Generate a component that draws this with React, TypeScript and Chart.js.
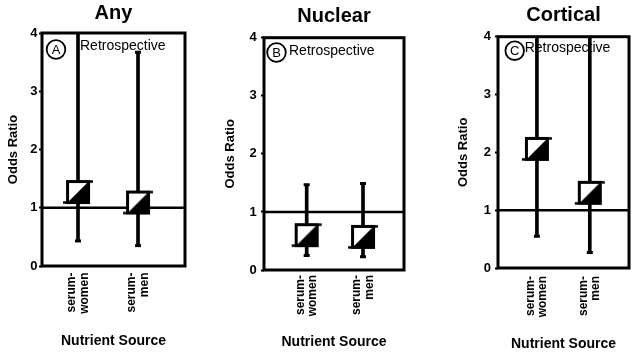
import React, { useEffect, useRef } from "react";
import { Chart, registerables } from "chart.js";

Chart.register(...registerables);

// ---------- data ----------
const PANEL_TITLES = ["Any", "Nuclear", "Cortical"];
const PANEL_LETTERS = ["A", "B", "C"];
const STUDY_LABEL = "Retrospective";
const CATEGORIES = [["serum-", "women"], ["serum-", "men"]];
const CATEGORY_X = [1, 2];
const Y_TITLE = "Odds Ratio";
const X_TITLE = "Nutrient Source";
const Y_MIN = 0;
const Y_MAX = 4;
const Y_STEP = 1;
const REFERENCE_OR = 1;

const ANY_OR = [1.27, 1.09];
const ANY_LOW = [0.43, 0.35];
const ANY_HIGH = [5.0, 3.67];

const NUCLEAR_OR = [0.6, 0.57];
const NUCLEAR_LOW = [0.25, 0.23];
const NUCLEAR_HIGH = [1.47, 1.49];

const CORTICAL_OR = [2.06, 1.3];
const CORTICAL_LOW = [0.55, 0.27];
const CORTICAL_HIGH = [5.5, 4.8];

const SERIES = [
  { or: ANY_OR, low: ANY_LOW, high: ANY_HIGH },
  { or: NUCLEAR_OR, low: NUCLEAR_LOW, high: NUCLEAR_HIGH },
  { or: CORTICAL_OR, low: CORTICAL_LOW, high: CORTICAL_HIGH },
];

// ---------- layout / style ----------
const FONT = "'Liberation Sans', Arial, Helvetica, sans-serif";
const PANEL_W = 214;
const PANEL_H = 357;

const LAYOUTS = [
  { left: 0, yAxisWidth: 42, padRight: 29, xAxisHeight: 91, titlePad: { top: 1.7, bottom: 7.3 }, yTitlePad: 5.7, yTickPad: 1.5, xTickPad: 6.5, xTitlePad: 7.6, xMin: 0.4, xMax: 2.783, circle: [14, 16.5], text: [38, 13] },
  { left: 214, yAxisWidth: 50, padRight: 24, xAxisHeight: 87, titlePad: { top: 4.2, bottom: 9.5 }, yTitlePad: 8.9, yTickPad: 4.3, xTickPad: 5, xTitlePad: 6.1, xMin: 0.242, xMax: 2.728, circle: [12.5, 14.8], text: [25, 13.6] },
  { left: 428, yAxisWidth: 70, padRight: 6, xAxisHeight: 89, titlePad: { top: 3.8, bottom: 8.9 }, yTitlePad: 27.2, yTickPad: 4, xTickPad: 8, xTitlePad: 4.6, xMin: 0.264, xMax: 2.741, circle: [16.7, 14], text: [26.7, 11.5] },
];

function makeMarker(): HTMLCanvasElement {
  const c = document.createElement("canvas");
  c.width = 32;
  c.height = 26;
  const g = c.getContext("2d")!;
  // square spans x 4..28, y 1..25
  g.fillStyle = "#fff";
  g.fillRect(4, 1, 24, 24);
  g.fillStyle = "#000";
  g.beginPath();
  g.moveTo(4, 25);
  g.lineTo(28, 1);
  g.lineTo(28, 25);
  g.closePath();
  g.fill();
  g.lineWidth = 3;
  g.strokeStyle = "#000";
  g.strokeRect(5.5, 2.5, 21, 21);
  g.lineWidth = 2.5;
  g.beginPath();
  g.moveTo(26, 2.5);
  g.lineTo(31, 2.5);
  g.moveTo(1, 23.5);
  g.lineTo(6, 23.5);
  g.stroke();
  return c;
}

function Panel({ index }: { index: number }) {
  const ref = useRef<HTMLCanvasElement | null>(null);
  useEffect(() => {
    const L = LAYOUTS[index];
    const s = SERIES[index];
    const marker = makeMarker();
    const decor = {
      id: "decor" + index,
      beforeDatasetsDraw(chart: any) {
        const { ctx, chartArea } = chart;
        const y = chart.scales.y.getPixelForValue(REFERENCE_OR);
        ctx.save();
        ctx.strokeStyle = "#000";
        ctx.lineWidth = 2.5;
        ctx.beginPath();
        ctx.moveTo(chartArea.left, y);
        ctx.lineTo(chartArea.right, y);
        ctx.stroke();
        // annotation
        const cx = chartArea.left + L.circle[0];
        const cy = chartArea.top + L.circle[1];
        ctx.lineWidth = 1.8;
        ctx.beginPath();
        ctx.arc(cx, cy, 9.3, 0, Math.PI * 2);
        ctx.stroke();
        ctx.fillStyle = "#000";
        ctx.font = "13px " + FONT;
        ctx.textAlign = "center";
        ctx.textBaseline = "middle";
        ctx.fillText(PANEL_LETTERS[index], cx, cy + 0.5);
        ctx.font = "14px " + FONT;
        ctx.textAlign = "left";
        ctx.fillText(STUDY_LABEL, chartArea.left + L.text[0], chartArea.top + L.text[1]);
        ctx.restore();
      },
      afterDatasetsDraw(chart: any) {
        const { ctx, chartArea } = chart;
        ctx.save();
        ctx.strokeStyle = "#000";
        ctx.lineWidth = 3;
        ctx.strokeRect(chartArea.left, chartArea.top, chartArea.right - chartArea.left, chartArea.bottom - chartArea.top);
        ctx.restore();
      },
    };

    const caps: { x: number; y: number }[] = [];
    CATEGORY_X.forEach((x, i) => {
      caps.push({ x, y: s.low[i] });
      caps.push({ x, y: s.high[i] });
    });

    const chart = new Chart(ref.current!, {
      type: "scatter",
      data: {
        datasets: [
          {
            type: "scatter",
            data: CATEGORY_X.map((x, i) => ({ x, y: s.or[i] })),
            pointStyle: marker as any,
            pointRadius: 12,
            clip: 0,
            order: 0,
          } as any,
          {
            type: "scatter",
            data: caps,
            pointStyle: "line",
            pointRadius: 3,
            borderWidth: 3,
            borderColor: "#000",
            backgroundColor: "#000",
            clip: 0,
            order: 1,
          } as any,
          {
            type: "bar",
            data: CATEGORY_X.map((x, i) => ({ x, y: [s.low[i], s.high[i]] })),
            barThickness: 3,
            backgroundColor: "#000",
            borderWidth: 0,
            clip: 0,
            order: 2,
          } as any,
        ],
      },
      options: {
        animation: false,
        responsive: false,
        events: [],
        layout: { padding: { left: 0, right: L.padRight, top: 0, bottom: 0 } },
        plugins: {
          legend: { display: false },
          tooltip: { enabled: false },
          title: {
            display: true,
            text: PANEL_TITLES[index],
            fullSize: false,
            color: "#000",
            font: { family: FONT, size: 20, weight: "bold" },
            padding: L.titlePad,
          },
        },
        scales: {
          x: {
            type: "linear",
            min: L.xMin,
            max: L.xMax,
            offset: false,
            grid: { display: false, drawTicks: false, offset: false },
            border: { display: false },
            afterBuildTicks: (scale: any) => {
              scale.ticks = CATEGORY_X.map((v) => ({ value: v }));
            },
            afterFit: (scale: any) => {
              scale.height = L.xAxisHeight;
            },
            ticks: {
              autoSkip: false,
              minRotation: 90,
              maxRotation: 90,
              padding: L.xTickPad,
              labelOffset: -6,
              color: "#000",
              font: { family: FONT, size: 12, weight: "bold", lineHeight: 1.02 },
              callback: (value: any) => {
                const i = CATEGORY_X.indexOf(Math.round(Number(value)));
                return i >= 0 ? CATEGORIES[i] : "";
              },
            },
            title: {
              display: true,
              text: X_TITLE,
              color: "#000",
              font: { family: FONT, size: 14, weight: "bold" },
              padding: { top: 0, bottom: L.xTitlePad },
            },
          },
          y: {
            type: "linear",
            min: Y_MIN,
            max: Y_MAX,
            grid: { display: true, drawOnChartArea: false, drawTicks: true, tickLength: 3, tickWidth: 2, color: "#000" },
            border: { display: false },
            afterFit: (scale: any) => {
              scale.width = L.yAxisWidth;
            },
            ticks: {
              stepSize: Y_STEP,
              padding: L.yTickPad,
              color: "#000",
              font: { family: FONT, size: 13, weight: "bold" },
            },
            title: {
              display: true,
              text: Y_TITLE,
              color: "#000",
              font: { family: FONT, size: 13, weight: "bold" },
              padding: { top: L.yTitlePad, bottom: 0 },
            },
          },
        },
      } as any,
      plugins: [decor],
    });
    return () => chart.destroy();
  }, [index]);

  const L = LAYOUTS[index];
  return (
    <div style={{ position: "absolute", left: L.left, top: 0, width: PANEL_W, height: PANEL_H }}>
      <canvas ref={ref} width={PANEL_W} height={PANEL_H} style={{ display: "block" }} />
    </div>
  );
}

export default function App() {
  return (
    <div
      style={{
        position: "fixed",
        left: 0,
        top: 0,
        width: 642,
        height: 357,
        overflow: "hidden",
        background: "#fff",
      }}
    >
      {PANEL_TITLES.map((_, i) => (
        <Panel key={i} index={i} />
      ))}
    </div>
  );
}
